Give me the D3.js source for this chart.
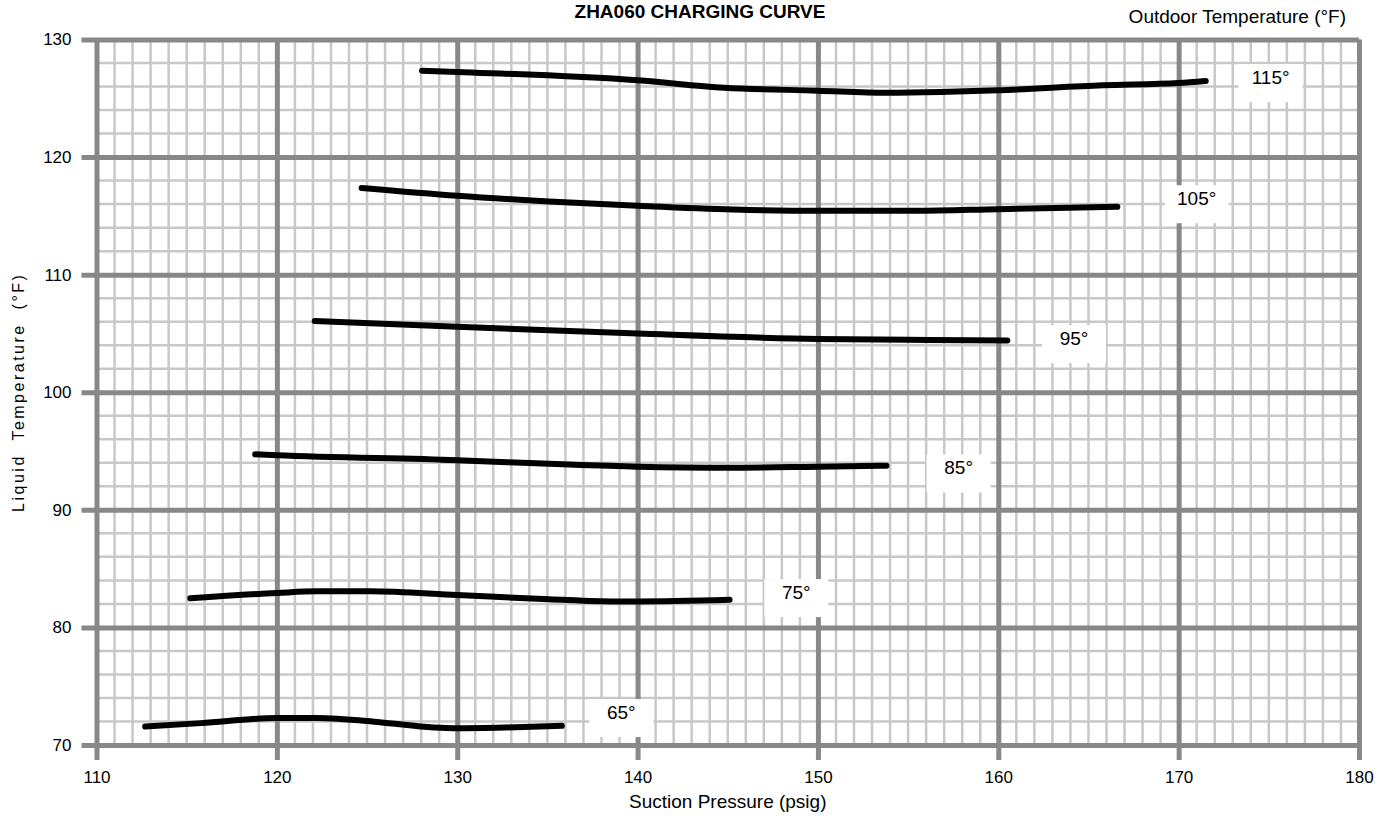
<!DOCTYPE html>
<html>
<head>
<meta charset="utf-8">
<script src="https://cdn.jsdelivr.net/npm/d3@7"></script>
<style>
  body { margin: 0; background: #fff; }
  text { font-family: "Liberation Sans", Arial, sans-serif; fill: #000; }
</style>
</head>
<body>
<svg id="chart"></svg>
<script>
// outdoor temperature of each curve (°F)
const outdoorTemps = [65, 75, 85, 95, 105, 115];

// suction pressure (psig) / liquid temperature (°F)
const suction65 = [112.7, 115.8, 120, 122.2, 125.7, 128.7, 130, 132.7, 135.8];
const liquid65  = [71.57, 71.86, 72.29, 72.29, 71.94, 71.49, 71.43, 71.49, 71.63];

const suction75 = [115.2, 120, 122.2, 125.2, 130, 135.1, 138.8, 140, 145.1];
const liquid75  = [82.48, 82.93, 83.07, 83.07, 82.75, 82.4, 82.21, 82.21, 82.35];

const suction85 = [118.8, 120, 130, 135.5, 140, 145, 150, 153.8];
const liquid85  = [94.72, 94.64, 94.22, 93.89, 93.67, 93.58, 93.67, 93.75];

const suction95 = [122.1, 130, 140, 150, 156.1, 160.5];
const liquid95  = [106.05, 105.57, 104.99, 104.53, 104.45, 104.4];

const suction105 = [124.7, 130, 135.1, 140, 145.3, 150, 155.4, 160, 166.6];
const liquid105  = [117.37, 116.71, 116.23, 115.86, 115.54, 115.43, 115.43, 115.57, 115.77];

const suction115 = [128.05, 130, 140, 144.8, 150, 153.8, 156.8, 160, 165.8, 170, 171.5];
const liquid115  = [127.35, 127.24, 126.53, 125.9, 125.65, 125.47, 125.53, 125.68, 126.1, 126.3, 126.47];

// where each "NN°" tag sits (psig, °F)
const labelP = [139.1, 148.8, 157.8, 164.2, 171.0, 175.1];
const labelT = [72.8, 83.0, 93.6, 104.6, 116.5, 126.8];

const xTicks = [110, 120, 130, 140, 150, 160, 170, 180];
const yTicks = [70, 80, 90, 100, 110, 120, 130];

const suctions = [suction65, suction75, suction85, suction95, suction105, suction115];
const liquids = [liquid65, liquid75, liquid85, liquid95, liquid105, liquid115];

const series = outdoorTemps.map((t, i) => ({
    temp: t,
    labelP: labelP[i],
    labelT: labelT[i],
    points: suctions[i].map((p, j) => ({ p: p, t: liquids[i][j] }))
}));

const orgWidth = 1382, orgHeight = 816;
const margin = { top: 39.5, right: 23, bottom: 71, left: 96.5 },
    width = orgWidth - margin.left - margin.right,
    height = orgHeight - margin.top - margin.bottom;

const xScale = d3.scaleLinear().domain([110, 180]).range([0, width]);
const yScale = d3.scaleLinear().domain([70, 130]).range([height, 0]);

const svg = d3.select("#chart")
    .attr("width", orgWidth)
    .attr("height", orgHeight)
    .append("g")
    .attr("transform", "translate(" + margin.left + "," + margin.top + ")");

// minor grid
svg.append("g")
    .selectAll("line")
    .data(d3.range(110, 181, 1))
    .join("line")
    .attr("x1", d => xScale(d)).attr("x2", d => xScale(d))
    .attr("y1", 0).attr("y2", height)
    .attr("stroke", "#c8c8c8")
    .attr("stroke-width", 2.5);

svg.append("g")
    .selectAll("line")
    .data(d3.range(70, 131, 2))
    .join("line")
    .attr("x1", 0).attr("x2", width)
    .attr("y1", d => yScale(d)).attr("y2", d => yScale(d))
    .attr("stroke", "#c8c8c8")
    .attr("stroke-width", 2.5);

// major grid through the axes
const tickOut = 15;

const xAxis = d3.axisBottom(xScale)
    .tickValues(xTicks)
    .tickSize(-(height + tickOut))
    .tickPadding(11)
    .tickFormat(d3.format("d"));

const yAxis = d3.axisLeft(yScale)
    .tickValues(yTicks)
    .tickSize(-(width + tickOut))
    .tickPadding(10)
    .tickFormat(d3.format("d"));

const gx = svg.append("g")
    .attr("class", "x axis")
    .attr("transform", "translate(0," + (height + tickOut) + ")")
    .call(xAxis);

const gy = svg.append("g")
    .attr("class", "y axis")
    .attr("transform", "translate(" + (-tickOut) + ",0)")
    .call(yAxis);

[gx, gy].forEach(g => {
    g.select(".domain").remove();
    g.selectAll("line").attr("stroke", "#888").attr("stroke-width", 5);
    g.selectAll("text").attr("font-size", 17).attr("fill", "#000");
});

// curves
const valueline = d3.line()
    .x(d => xScale(d.p))
    .y(d => yScale(d.t))
    .curve(d3.curveMonotoneX);

svg.append("g")
    .selectAll("path")
    .data(series)
    .join("path")
    .attr("d", d => valueline(d.points))
    .attr("fill", "none")
    .attr("stroke", "#000")
    .attr("stroke-width", 6)
    .attr("stroke-linecap", "round");

// curve tags
const labels = svg.append("g")
    .selectAll("g")
    .data(series)
    .join("g")
    .attr("transform", d => "translate(" + xScale(d.labelP) + "," + yScale(d.labelT) + ")");

labels.append("rect")
    .attr("x", -32).attr("y", -13)
    .attr("width", 64).attr("height", 38)
    .attr("fill", "#fff");

labels.append("text")
    .attr("text-anchor", "middle")
    .attr("dy", "0.35em")
    .attr("font-size", 19)
    .text(d => d.temp + "°");

// titles
const root = d3.select("#chart");

root.append("text")
    .attr("x", 700).attr("y", 18)
    .attr("text-anchor", "middle")
    .attr("font-size", 19)
    .attr("font-weight", "bold")
    .text("ZHA060 CHARGING CURVE");

root.append("text")
    .attr("x", 1346).attr("y", 23)
    .attr("text-anchor", "end")
    .attr("font-size", 19)
    .text("Outdoor Temperature (°F)");

root.append("text")
    .attr("x", margin.left + width / 2).attr("y", 808)
    .attr("text-anchor", "middle")
    .attr("font-size", 19)
    .text("Suction Pressure (psig)");

root.append("text")
    .attr("transform", "translate(24," + (margin.top + height / 2) + ") rotate(-90)")
    .attr("text-anchor", "middle")
    .attr("font-size", 16)
    .attr("letter-spacing", 2.5)
    .style("white-space", "pre")
    .text("Liquid  Temperature  (°F)");
</script>
</body>
</html>
